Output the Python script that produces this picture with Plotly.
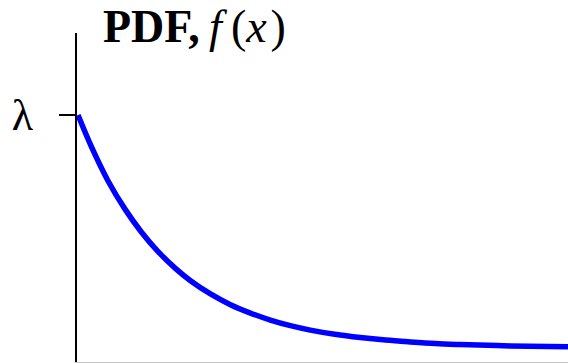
import plotly.graph_objects as go

# Exponential density, in units where lambda = 1 (x measured in 1/lambda)
x_vals = [0.0, 0.15, 0.33, 0.52, 0.70, 0.88, 1.07, 1.24, 1.46, 1.68, 1.90,
          2.12, 2.34, 2.56, 2.83, 3.11, 3.39, 3.66, 3.94, 4.21, 4.76, 5.40]
pdf_vals = [1.0, 0.862, 0.718, 0.595, 0.497, 0.415, 0.343, 0.289, 0.232, 0.186, 0.150,
            0.120, 0.096, 0.077, 0.059, 0.045, 0.034, 0.026, 0.019, 0.015, 0.009, 0.005]

y_tick_vals = [1.0]
y_tick_text = ["λ"]

serif = "Liberation Serif, Times New Roman, serif"

fig = go.Figure(
    go.Scatter(
        x=x_vals,
        y=pdf_vals,
        mode="lines",
        line=dict(color="#0000ff", width=5.5, shape="spline", smoothing=1.0),
        hoverinfo="skip",
    )
)

fig.update_layout(
    width=568,
    height=363,
    margin=dict(l=77, r=0, t=33, b=1),
    paper_bgcolor="white",
    plot_bgcolor="white",
    showlegend=False,
    xaxis=dict(
        range=[-0.011, 5.4],
        showline=True,
        linecolor="#c4c4c4",
        linewidth=1.5,
        showgrid=False,
        zeroline=False,
        showticklabels=False,
        ticks="",
        fixedrange=True,
    ),
    yaxis=dict(
        range=[-0.060, 1.352],
        showline=True,
        linecolor="black",
        linewidth=2,
        showgrid=False,
        zeroline=False,
        tickvals=y_tick_vals,
        ticktext=y_tick_text,
        ticks="outside",
        ticklen=16,
        tickwidth=2,
        tickcolor="black",
        ticklabelstandoff=17,
        tickfont=dict(family=serif, size=44, color="black"),
        fixedrange=True,
    ),
    annotations=[
        dict(
            text="<b>PDF,</b>\u2009<i>f</i>\u2009(<i>x</i>\u200a)",
            xref="paper",
            yref="paper",
            x=0.049,
            y=1.0,
            xanchor="left",
            yanchor="middle",
            yshift=7,
            showarrow=False,
            font=dict(family=serif, size=46, color="black"),
        )
    ],
)

fig.write_html("out.html")
